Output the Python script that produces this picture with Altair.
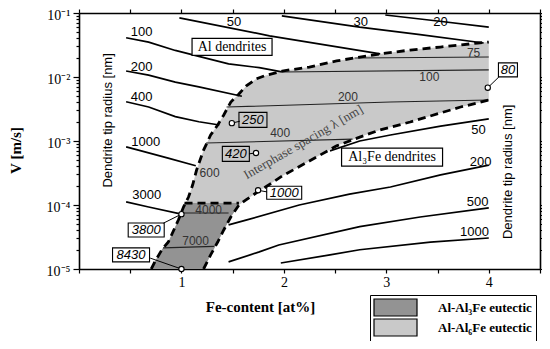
import altair as alt
import pandas as pd

# ---------------- values ----------------
# x: Fe-content [at%], V: growth velocity [m/s] (log scale)

# light shaded band (Al-Al6Fe eutectic): upper/left dashed edge and lower dashed edge
band_x = [0.705, 0.744, 0.813, 0.872, 0.970, 1.020, 1.069, 1.109, 1.148, 1.216,
          1.285, 1.354, 1.413, 1.482, 1.561, 1.630, 1.728, 1.807, 1.984, 2.249,
          2.515, 2.741, 2.938, 3.233, 3.528, 3.725, 3.892, 4.0]
band_top = [1.0e-5, 1.33e-5, 2.05e-5, 2.64e-5, 5.83e-5, 9.3e-5, 1.33e-4, 2.05e-4, 3.52e-4, 7.2e-4,
            1.24e-3, 1.78e-3, 2.55e-3, 4.07e-3, 5.42e-3, 7.2e-3, 9.3e-3, 1.04e-2, 1.24e-2, 1.43e-2,
            1.78e-2, 2.05e-2, 2.29e-2, 2.64e-2, 2.94e-2, 3.16e-2, 3.40e-2, 3.52e-2]
band_bottom = [1.0e-5, 1.0e-5, 1.0e-5, 1.0e-5, 1.0e-5, 1.0e-5, 1.0e-5, 1.0e-5, 1.0e-5, 1.0e-5,
               1.66e-5, 2.64e-5, 4.07e-5, 6.5e-5, 1.0e-4, 1.20e-4, 1.54e-4, 1.85e-4, 2.84e-4, 4.87e-4,
               8.4e-4, 1.15e-3, 1.49e-3, 1.98e-3, 2.74e-3, 3.40e-3, 3.93e-3, 4.37e-3]

# darker band (Al-Al3Fe eutectic)
dark_x = [0.705, 0.744, 0.813, 0.872, 0.970, 1.030, 1.216, 1.285, 1.354, 1.413, 1.482, 1.561]
dark_top = [1.0e-5, 1.33e-5, 2.05e-5, 2.64e-5, 5.83e-5, 1.07e-4, 1.07e-4, 1.07e-4, 1.07e-4, 1.07e-4, 1.07e-4, 1.07e-4]
dark_bottom = [1.0e-5, 1.0e-5, 1.0e-5, 1.0e-5, 1.0e-5, 1.0e-5, 1.0e-5, 1.66e-5, 2.64e-5, 4.07e-5, 6.5e-5, 1.0e-4]

# boundary between the two eutectics
sep_x = [1.030, 1.561]
sep_v = [1.07e-4, 1.07e-4]

# Al dendrite tip radius contours [nm]
al_names = ["100", "200", "400", "1000", "3000", "50", "30", "20"]
al_x = [
    [0.46, 0.68, 0.94, 1.17, 1.46, 1.76, 1.98],
    [0.46, 0.68, 0.94, 1.17, 1.59],
    [0.46, 0.68, 0.94, 1.17, 1.37],
    [0.46, 0.58, 0.87, 1.14],
    [0.46, 0.68, 1.00],
    [0.98, 1.86, 2.94],
    [1.98, 2.74, 3.33, 3.95],
    [2.99, 3.50, 4.00],
]
al_v = [
    [4.1e-2, 3.5e-2, 2.6e-2, 2.1e-2, 1.6e-2, 1.4e-2, 1.2e-2],
    [1.24e-2, 1.07e-2, 8.3e-3, 7.0e-3, 5.0e-3],
    [4.1e-3, 3.4e-3, 2.4e-3, 2.0e-3, 1.78e-3],
    [8.1e-4, 7.2e-4, 5.4e-4, 4.1e-4],
    [1.12e-4, 9.3e-5, 7.2e-5],
    [8.4e-2, 4.4e-2, 2.3e-2],
    [9.0e-2, 6.0e-2, 4.6e-2, 3.4e-2],
    [9.3e-2, 7.5e-2, 6.0e-2],
]

# interphase spacing contours [nm]
lam_names = ["75", "100", "200", "400", "4000", "7000"]
lam_x = [[2.69, 4.0], [1.98, 4.0], [1.44, 3.04, 4.0], [1.24, 2.67], [1.0, 1.46], [0.82, 1.32]]
lam_v = [[1.98e-2, 2.05e-2], [1.2e-2, 1.29e-2], [3.39e-3, 4.07e-3, 4.37e-3],
         [9.3e-4, 1.07e-3], [7.5e-5, 7.5e-5], [2.14e-5, 2.26e-5]]

# Al3Fe dendrite tip radius contours [nm]
fe_names = ["50", "200", "500", "1000"]
fe_x = [[2.45, 2.74, 3.04, 3.53, 4.0],
        [1.46, 1.63, 2.15, 2.64, 3.04, 3.53, 4.0],
        [1.46, 1.76, 1.95, 2.74, 3.33, 4.0],
        [1.97, 2.45, 2.74, 3.43, 4.0]]
fe_v = [[7.0e-4, 1.0e-3, 1.24e-3, 1.71e-3, 2.21e-3],
        [4.9e-5, 5.8e-5, 1.0e-4, 1.48e-4, 1.91e-4, 2.95e-4, 4.2e-4],
        [1.29e-5, 1.85e-5, 2.37e-5, 4.6e-5, 6.5e-5, 9.0e-5],
        [1.24e-5, 1.66e-5, 2.0e-5, 2.63e-5, 3.05e-5]]

# contour labels
al_lab_x = [0.611, 0.611, 0.611, 0.651, 0.661, 1.512, 2.751, 3.528]
al_lab_v = [5.05e-2, 1.43e-2, 4.87e-3, 9.6e-4, 1.43e-4, 7.2e-2, 7.2e-2, 7.2e-2]
lam_lab_text = ["75", "100", "200", "400", "600", "4000", "7000"]
lam_lab_x = [3.852, 3.42, 2.625, 1.964, 1.275, 1.266, 1.138]
lam_lab_v = [2.37e-2, 1.0e-2, 4.87e-3, 1.33e-3, 3.16e-4, 8.3e-5, 2.74e-5]
fe_lab_x = [3.90, 3.92, 3.89, 3.86]
fe_lab_v = [1.48e-3, 4.68e-4, 1.12e-4, 3.8e-5]

# marked points with boxed values
pt_text = ["250", "420", "1000", "3800", "8430", "80"]
pt_x = [1.492, 1.728, 1.748, 1.0, 1.0, 3.99]
pt_v = [1.9e-3, 6.5e-4, 1.7e-4, 7.2e-5, 1.0e-5, 6.8e-3]
box_x = [1.698, 1.531, 2.003, 0.656, 0.508, 4.187]
box_v = [2.14e-3, 6.3e-4, 1.55e-4, 4.07e-5, 1.66e-5, 1.29e-2]
lead_x = [1.571, 1.659, 1.836, 0.824, 0.695, 4.098]
lead_v = [2.04e-3, 6.3e-4, 1.6e-4, 5.2e-5, 1.48e-5, 1.0e-2]

# region labels
reg_text = ["Al dendrites", "Al\u2083Fe dendrites"]
reg_x = [1.494, 3.056]
reg_v = [2.95e-2, 5.6e-4]

phase_names = ["Al-Al\u2083Fe eutectic", "Al-Al\u2086Fe eutectic"]
phase_colors = ["#939393", "#c9c9c9"]

# ---------------- styles (pixel sizes of the label boxes) ----------------
pt_box = [(28, 15), (27, 15), (35, 13), (36, 14), (37, 14), (19, 14)]
reg_box = [(80, 17), (101, 18)]


def rect_path(w, h):
    return f"M{-w/2},{-h/2}H{w/2}V{h/2}H{-w/2}Z"


def lines_df(names, xs, vs, group):
    rows = []
    for n, xx, vv in zip(names, xs, vs):
        for k, (a, b) in enumerate(zip(xx, vv)):
            rows.append({"id": f"{group}-{n}", "k": k, "x": a, "V": b})
    return pd.DataFrame(rows)


light_df = pd.DataFrame({"x": band_x, "top": band_top, "bottom": band_bottom, "phase": phase_names[1]})
dark_df = pd.DataFrame({"x": dark_x, "top": dark_top, "bottom": dark_bottom, "phase": phase_names[0]})
upper_df = pd.DataFrame({"id": "up", "k": range(len(band_x)), "x": band_x, "V": band_top})
lo_idx = [i for i, b in enumerate(band_x) if b >= 1.216]
lower_df = pd.DataFrame({"id": "lo", "k": range(len(lo_idx)),
                         "x": [band_x[i] for i in lo_idx], "V": [band_bottom[i] for i in lo_idx]})
sep_df = pd.DataFrame({"id": "sep", "k": [0, 1], "x": sep_x, "V": sep_v})
dash_df = pd.concat([upper_df, lower_df, sep_df])

al_df = lines_df(al_names, al_x, al_v, "al")
lam_df = lines_df(lam_names, lam_x, lam_v, "lam")
fe_df = lines_df(fe_names, fe_x, fe_v, "fe")
thick_df = pd.concat([al_df, fe_df])

lead_rows = []
for i in range(len(pt_text)):
    lead_rows.append({"id": i, "k": 0, "x": lead_x[i], "V": lead_v[i]})
    lead_rows.append({"id": i, "k": 1, "x": pt_x[i], "V": pt_v[i]})
lead_df = pd.DataFrame(lead_rows)

pt_df = pd.DataFrame({"x": pt_x, "V": pt_v})
boxlab_df = pd.DataFrame({"x": box_x, "V": box_v, "t": pt_text,
                          "shape": [rect_path(w, h) for w, h in pt_box]})
reg_df = pd.DataFrame({"x": reg_x, "V": reg_v, "t": reg_text,
                       "shape": [rect_path(w, h) for w, h in reg_box]})
al_lab_df = pd.DataFrame({"x": al_lab_x, "V": al_lab_v, "t": al_names})
lam_lab_df = pd.DataFrame({"x": lam_lab_x, "V": lam_lab_v, "t": lam_lab_text})
fe_lab_df = pd.DataFrame({"x": fe_lab_x, "V": fe_lab_v, "t": fe_names})

# ---------------- scales / axes ----------------
xscale = alt.Scale(domain=[0, 4.5], nice=False, zero=False)
yscale = alt.Scale(type="log", domain=[1e-5, 1e-1], nice=False)
x_ticks = [0, 0.5, 1, 1.5, 2, 2.5, 3, 3.5, 4, 4.5]
y_ticks = [m * 10.0 ** e for e in range(-5, -1) for m in range(1, 10)] + [0.1]

major = "abs(log(datum.value)/LN10 - round(log(datum.value)/LN10)) < 0.01"
y_tick_size = {"condition": {"test": major, "value": 6}, "value": 3}
y_label_expr = (major + " ? '10' + ['\u2070','\u207b\u00b9','\u207b\u00b2','\u207b\u00b3','\u207b\u2074','\u207b\u2075']"
                "[-round(log(datum.value)/LN10)] : ''")

SERIF = "Liberation Serif"
SANS = "Liberation Sans"

axis_common = dict(domainColor="black", domainWidth=1.6, tickColor="black", tickWidth=1.2, grid=False)

x_bottom = alt.Axis(values=x_ticks, orient="bottom", tickSize=4,
                    labelExpr="datum.value >= 1 && datum.value % 1 == 0 ? format(datum.value, 'd') : ''",
                    labelFont=SERIF, labelFontSize=14, labelColor="black", labelPadding=2,
                    title="Fe-content  [at%]", titleFont=SERIF, titleFontSize=15, titleFontWeight="bold",
                    titleColor="black", titleX=181, titleY=37, titleAlign="center", titleBaseline="middle",
                    **axis_common)
y_left = alt.Axis(values=y_ticks, orient="left", tickSize=y_tick_size, labelExpr=y_label_expr,
                  labelFont=SERIF, labelFontSize=14, labelColor="black", labelPadding=3, labelOffset=2,
                  title="V [m/s]", titleFont=SERIF, titleFontSize=15, titleFontWeight="bold",
                  titleColor="black", titleX=-64, titleY=137, titleAlign="center", titleBaseline="middle",
                  titleAngle=270, **axis_common)
x_top = alt.Axis(values=x_ticks, orient="top", tickSize=4, labels=False, title=None, **axis_common)
y_right = alt.Axis(values=y_ticks, orient="right", tickSize=y_tick_size, labels=False, title=None,
                   **axis_common)

legend = alt.Legend(orient="none", legendX=291, legendY=282, title=None,
                    symbolType="M-2.867,-1.133H2.867V1.133H-2.867Z", symbolSize=225,
                    symbolStrokeColor="black", symbolStrokeWidth=1.2, symbolOpacity=1,
                    symbolOffset=13, labelOffset=34,
                    labelFont=SERIF, labelFontSize=13, labelFontWeight="bold", labelColor="black",
                    strokeColor="black", padding=4, rowPadding=-3, fillColor="white")
color_enc = alt.Color("phase:N", scale=alt.Scale(domain=phase_names, range=phase_colors), legend=legend)


def X(field="x"):
    return alt.X(f"{field}:Q", scale=xscale, axis=None)


def Y(field="V"):
    return alt.Y(f"{field}:Q", scale=yscale, axis=None)


light = alt.Chart(light_df).mark_area(opacity=1).encode(
    x=alt.X("x:Q", scale=xscale, axis=x_bottom),
    y=alt.Y("top:Q", scale=yscale, axis=y_left),
    y2="bottom:Q", color=color_enc)

dark = alt.Chart(dark_df).mark_area(opacity=1).encode(
    x=X(), y=Y("top"), y2="bottom:Q", color=color_enc)

lam = alt.Chart(lam_df).mark_line(color="#222222", strokeWidth=1.1).encode(
    x=alt.X("x:Q", scale=xscale, axis=x_top),
    y=alt.Y("V:Q", scale=yscale, axis=y_right),
    detail="id:N", order="k:Q")

thick = alt.Chart(thick_df).mark_line(color="black", strokeWidth=1.7).encode(
    x=X(), y=Y(), detail="id:N", order="k:Q")

dashed = alt.Chart(dash_df).mark_line(color="black", strokeWidth=2.8, strokeDash=[8, 5]).encode(
    x=X(), y=Y(), detail="id:N", order="k:Q")

leads = alt.Chart(lead_df).mark_line(color="black", strokeWidth=1).encode(
    x=X(), y=Y(), detail="id:N", order="k:Q")

pts = alt.Chart(pt_df).mark_point(shape="circle", size=28, filled=True, fill="white",
                                  stroke="black", strokeWidth=1.1, opacity=1).encode(x=X(), y=Y())

boxes = alt.Chart(boxlab_df).mark_point(size=4, filled=False, stroke="black", strokeWidth=1.1,
                                        opacity=1).encode(
    x=X(), y=Y(), shape=alt.Shape("shape:N", scale=None, legend=None))
box_text = alt.Chart(boxlab_df).mark_text(font=SANS, fontSize=13, fontStyle="italic",
                                          color="black").encode(x=X(), y=Y(), text="t:N")

reg_boxes = alt.Chart(reg_df).mark_point(size=4, filled=True, fill="white", stroke="black",
                                         strokeWidth=1.2, opacity=1).encode(
    x=X(), y=Y(), shape=alt.Shape("shape:N", scale=None, legend=None))
reg_text_l = alt.Chart(reg_df).mark_text(font=SERIF, fontSize=14, color="black").encode(
    x=X(), y=Y(), text="t:N")

al_text = alt.Chart(al_lab_df).mark_text(font=SANS, fontSize=13, color="black").encode(
    x=X(), y=Y(), text="t:N")
lam_text = alt.Chart(lam_lab_df).mark_text(font=SANS, fontSize=12, color="#333333").encode(
    x=X(), y=Y(), text="t:N")
fe_text = alt.Chart(fe_lab_df).mark_text(font=SANS, fontSize=13, color="black").encode(
    x=X(), y=Y(), text="t:N")

spacing_df = pd.DataFrame({"x": [2.19], "V": [9.6e-4], "t": ["Interphase spacing \u03bb [nm]"]})
spacing = alt.Chart(spacing_df).mark_text(font=SERIF, fontSize=13, color="#444444", angle=330).encode(
    x=X(), y=Y(), text="t:N")

radius_df = pd.DataFrame({"x": [0.283, 4.187], "V": [2.1e-3, 3.3e-4],
                          "t": ["Dendrite tip radius [nm]", "Dendrite tip radius [nm]"]})
radius = alt.Chart(radius_df).mark_text(font=SANS, fontSize=13, color="black", angle=270).encode(
    x=X(), y=Y(), text="t:N")

chart = alt.layer(
    light, dark, lam, thick, dashed, leads, pts, boxes, box_text, reg_boxes, reg_text_l,
    al_text, lam_text, fe_text, spacing, radius
).resolve_axis(
    x="independent", y="independent"
).properties(
    width=461, height=256,
    autosize=alt.AutoSizeParams(type="none"),
    padding={"left": 71, "top": 5, "right": 2, "bottom": 72},
    background="white",
).configure_view(stroke=None)

chart.save("out.html", embed_options={"renderer": "svg", "actions": False})
